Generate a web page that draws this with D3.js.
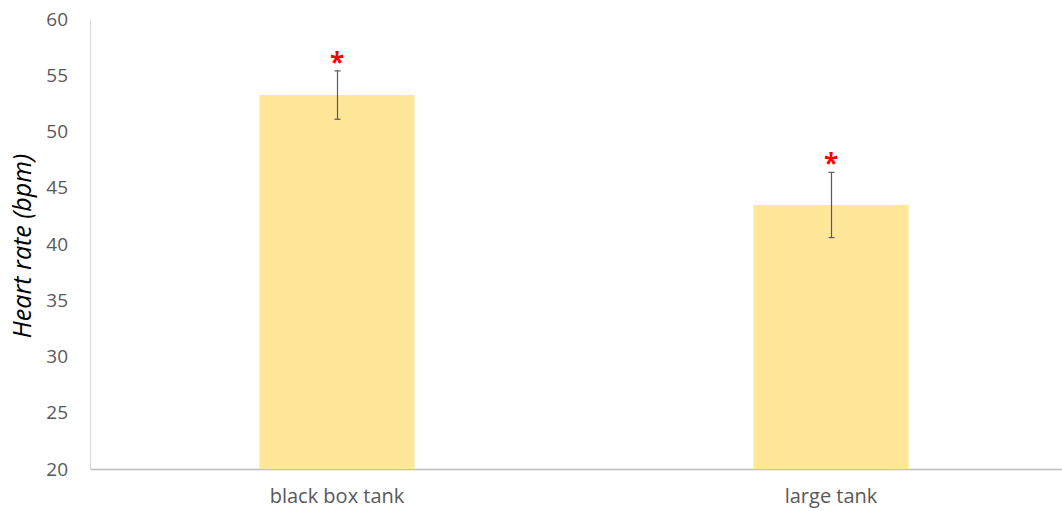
<!DOCTYPE html>
<html>
<head>
<meta charset="utf-8">
<script src="https://cdn.jsdelivr.net/npm/d3@7"></script>
<style>
  html, body { margin: 0; padding: 0; background: #fff; }
  svg { display: block; }
  text { font-family: "Open Sans", "Liberation Sans", sans-serif; }
</style>
</head>
<body>
<svg id="chart" width="1062" height="511"></svg>
<script>
// Mean heart rate per tank type, with error (±) and significance markers
const categories = ["black box tank", "large tank"];
const means = [53.24, 43.47];
const errors = [2.15, 2.9];
const significant = [true, true];
const yTicks = [20, 25, 30, 35, 40, 45, 50, 55, 60];

const width = 1062, height = 511;
const margin = { top: 19, right: -16, bottom: 42, left: 90 };

const svg = d3.select("#chart");

const x = d3.scaleBand()
  .domain(categories)
  .range([margin.left, width - margin.right])
  .paddingInner(0)
  .paddingOuter(0);

const y = d3.scaleLinear()
  .domain([20, 60])
  .range([height - margin.bottom, margin.top]);

const barWidth = x.bandwidth() * 0.314;

// Axes
const yAxis = d3.axisLeft(y).tickValues(yTicks).tickSize(0).tickPadding(22);
const gy = svg.append("g")
  .attr("transform", `translate(${margin.left},0)`)
  .call(yAxis);
gy.select(".domain").attr("stroke", "#d9d9d9").attr("stroke-width", 1);
gy.selectAll("text")
  .attr("fill", "#595959")
  .style("font-size", "19px");

const xAxis = d3.axisBottom(x).tickSize(0).tickPadding(20);
const gx = svg.append("g")
  .attr("transform", `translate(0,${y(20)})`)
  .call(xAxis);
gx.select(".domain").attr("stroke", "#bfbfbf").attr("stroke-width", 1.5);
gx.selectAll("text")
  .attr("fill", "#595959")
  .style("font-size", "20px");

// Bars
svg.append("g")
  .selectAll("rect")
  .data(categories)
  .join("rect")
  .attr("x", (d) => x(d) + x.bandwidth() / 2 - barWidth / 2)
  .attr("y", (d, i) => y(means[i]))
  .attr("width", barWidth)
  .attr("height", (d, i) => y(20) - y(means[i]))
  .attr("fill", "#ffe699");

// Error bars
const eb = svg.append("g")
  .attr("stroke", "#5a5a5a")
  .attr("stroke-width", 1.2);
categories.forEach((c, i) => {
  const cx = Math.round(x(c) + x.bandwidth() / 2) + 0.5;
  const hi = y(means[i] + errors[i]);
  const lo = y(means[i] - errors[i]);
  eb.append("line").attr("x1", cx).attr("x2", cx).attr("y1", hi).attr("y2", lo);
  eb.append("line").attr("x1", cx - 3).attr("x2", cx + 3).attr("y1", hi).attr("y2", hi);
  eb.append("line").attr("x1", cx - 3).attr("x2", cx + 3).attr("y1", lo).attr("y2", lo);
});

// Significance markers
svg.append("g")
  .selectAll("text")
  .data(categories.filter((c, i) => significant[i]))
  .join("text")
  .attr("x", (d) => x(d) + x.bandwidth() / 2)
  .attr("y", (d) => y(means[categories.indexOf(d)] + errors[categories.indexOf(d)]) + 1)
  .attr("text-anchor", "middle")
  .attr("fill", "#ff0000")
  .style("font-size", "26px")
  .style("font-weight", "bold")
  .text("*");

// Y axis title
svg.append("text")
  .attr("transform", `translate(31,${(y(20) + y(60)) / 2 + 2}) rotate(-90)`)
  .attr("text-anchor", "middle")
  .attr("fill", "#000")
  .style("font-size", "25px")
  .style("font-style", "italic")
  .text("Heart rate (bpm)");
</script>
</body>
</html>
